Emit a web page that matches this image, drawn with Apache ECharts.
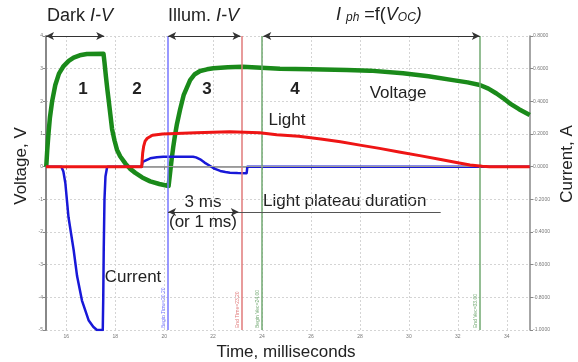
<!DOCTYPE html>
<html><head><meta charset="utf-8">
<script src="https://cdn.jsdelivr.net/npm/echarts@6/dist/echarts.min.js"></script>
<style>html,body{margin:0;padding:0;background:#fff}#c{width:578px;height:362px}</style>
</head><body><div id="c"></div>
<script>
// ---- data ----
const xTicks = [16, 18, 20, 22, 24, 26, 28, 30, 32, 34];
const voltageT = [15.18, 15.22, 15.27, 15.33, 15.42, 15.55, 15.7, 15.89, 16.1, 16.3, 16.55, 16.84, 17.52,
  17.56, 17.62, 17.68, 17.73, 17.8, 17.87, 17.97, 18.07, 18.2, 18.41, 18.6, 18.82, 19.1, 19.43, 19.8, 20.18, 20.22,
  20.3, 20.37, 20.44, 20.52, 20.65, 20.8, 21.06, 21.25, 21.47, 21.75, 22.01, 22.6, 23.2, 23.22,
  24.73, 26.0, 27.46, 28.41, 29.76, 30.8, 31.8, 32.4, 32.9, 33.25, 33.58, 33.85, 34.12, 34.5, 34.94];
const voltageV = [0, 0.5, 1.0, 1.5, 2.0, 2.5, 2.85, 3.08, 3.24, 3.34, 3.41, 3.45, 3.46,
  3.2, 2.75, 2.35, 2.04, 1.6, 1.15, 0.8, 0.52, 0.32, 0.1, -0.06, -0.19, -0.33, -0.45, -0.53, -0.59, -0.62,
  0.2, 0.6, 0.95, 1.3, 1.75, 2.2, 2.65, 2.83, 2.93, 2.98, 3.01, 3.04, 3.06, 3.0,
  3.0, 2.98, 2.96, 2.94, 2.86, 2.77, 2.65, 2.58, 2.5, 2.39, 2.24, 2.1, 1.94, 1.76, 1.58];
const lightT = [15.17, 19.08, 19.1, 19.12, 19.16, 19.22, 19.31, 19.52, 19.93, 21.3, 22.67, 23.9, 24.6, 25.5, 26.4, 27.2, 28.0, 28.8, 29.6, 30.5, 31.3, 32.0, 32.5, 33.0, 33.3, 34.94];
const lightV = [0, 0, 0.2, 0.41, 0.62, 0.78, 0.87, 0.96, 1.0, 1.04, 1.07, 1.04, 0.98, 0.93, 0.85, 0.76, 0.66, 0.56, 0.45, 0.33, 0.22, 0.12, 0.05, 0.01, 0, 0];
const darkCurT = [15.17, 15.8, 15.88, 15.96, 16.09, 16.3, 16.44, 16.64, 16.91, 17.1, 17.25, 17.49, 17.51, 17.53, 17.56, 17.6, 17.67];
const darkCurI = [0, 0, -0.03, -0.1, -0.31, -0.51, -0.67, -0.82, -0.94, -0.98, -1.0, -1.0, -0.8, -0.5, -0.2, -0.06, 0];
const illCurT = [17.67, 19.08, 19.12, 19.2, 19.43, 19.7, 19.96, 21.18, 21.3, 21.47, 21.65, 21.88, 22.05, 22.29, 22.5, 22.69, 23.0, 23.37, 23.4, 34.94];
const illCurI = [0, 0, 0.03, 0.042, 0.051, 0.058, 0.061, 0.061, 0.057, 0.045, 0.025, 0.004, -0.012, -0.026, -0.033, -0.037, -0.039, -0.04, 0, 0];
const markerT = [20.16, 23.17, 24.0, 32.9];
const markerText = ['Begin Time=20.20', 'End Time=23.20', 'Begin Vec=24.00', 'End Vec=33.00'];
const markerColor = ['#7777ff', '#e07a7a', '#70a870', '#70a870'];

const zip = (a, b) => a.map((v, i) => [v, b[i]]);
const FF = "'Liberation Sans', Arial, sans-serif";

const chart = echarts.init(document.getElementById('c'), null, {renderer: 'canvas'});

const arrowLine = (t0, t1, y, color, sym) => [
  {coord: [t0, y], symbol: sym, symbolSize: [6, 8], lineStyle: {color: color, width: 1.2, type: 'solid'}, label: {show: false}},
  {coord: [t1, y], symbol: sym, symbolSize: [6, 8]}
];

const markData = markerT.map((t, i) => ({
  xAxis: t,
  lineStyle: {color: markerColor[i], width: 1.5, type: 'solid'},
  label: {show: true, formatter: markerText[i], position: 'insideStartTop', fontSize: 5, color: markerColor[i], fontFamily: FF, distance: 2}
}));
markData.push({yAxis: 0, lineStyle: {color: '#999', width: 1, type: 'solid'}, label: {show: false}});
markData.push(arrowLine(15.17, 17.55, 4, '#333', 'arrow'));
markData.push(arrowLine(20.16, 23.12, 4, '#333', 'arrow'));
markData.push(arrowLine(24.05, 32.9, 4, '#333', 'arrow'));
markData.push(arrowLine(20.16, 23.05, -1.39, '#333', 'arrow'));
markData.push(arrowLine(23.05, 31.3, -1.39, '#555', 'none'));

const txt = (x, y, text, size, extra) => ({
  type: 'text', x: x, y: y, silent: true,
  style: Object.assign({text: text, fontSize: size, fontFamily: FF, fill: '#222', textAlign: 'center', textVerticalAlign: 'middle'}, extra || {})
});

const lineSeries = (name, axis, t, v, color, width, z) => ({
  name: name, type: 'line', yAxisIndex: axis, data: zip(t, v),
  showSymbol: false, smooth: false, lineStyle: {color: color, width: width, join: 'round'}, z: z
});

const vSeries = lineSeries('Voltage', 0, voltageT, voltageV, '#1a8a1a', 4.5, 3);
vSeries.markLine = {silent: true, symbol: 'none', animation: false, data: markData};

chart.setOption({
  animation: false,
  grid: {left: 46, right: 48, top: 36, bottom: 32},
  xAxis: {
    type: 'value', min: 15.17, max: 34.95,
    axisLine: {show: true, lineStyle: {color: '#888', width: 1.5}},
    axisTick: {show: true, customValues: xTicks, length: 3, lineStyle: {color: '#888'}},
    axisLabel: {customValues: xTicks, fontSize: 5, color: '#777', margin: 4, fontFamily: FF},
    splitLine: {show: true, lineStyle: {color: '#d4d4d4', type: [2, 2], width: 1}}
  },
  yAxis: [{
    type: 'value', min: -5, max: 4, interval: 1,
    axisLine: {show: true, onZero: false, lineStyle: {color: '#888', width: 2}},
    axisTick: {show: true, length: 3, lineStyle: {color: '#888'}},
    axisLabel: {fontSize: 5, color: '#777', margin: 3, fontFamily: FF},
    splitLine: {show: true, lineStyle: {color: '#d4d4d4', type: [2, 2], width: 1}}
  }, {
    type: 'value', min: -1, max: 0.8, interval: 0.2, position: 'right',
    axisLine: {show: true, onZero: false, lineStyle: {color: '#888', width: 1.5}},
    axisTick: {show: true, length: 3, lineStyle: {color: '#888'}},
    axisLabel: {fontSize: 5, color: '#777', margin: 3, fontFamily: FF, formatter: v => v.toFixed(4)},
    splitLine: {show: false}
  }],
  series: [
    vSeries,
    lineSeries('Dark current', 1, darkCurT, darkCurI, '#1818d8', 2.5, 4),
    lineSeries('Illuminated current', 1, illCurT, illCurI, '#1818d8', 2.5, 4),
    lineSeries('Light', 0, lightT, lightV, '#ee1515', 3, 5)
  ],
  graphic: [
    {type: 'text', left: 47, top: 7, silent: true, style: {rich: {a: {fontSize: 18, fontFamily: FF, fill: '#222'}, i: {fontSize: 18, fontFamily: FF, fontStyle: 'italic', fill: '#222'}}, text: '{a|Dark }{i|I-V}'}},
    {type: 'text', left: 168, top: 7, silent: true, style: {rich: {a: {fontSize: 18, fontFamily: FF, fill: '#222'}, i: {fontSize: 18, fontFamily: FF, fontStyle: 'italic', fill: '#222'}}, text: '{a|Illum. }{i|I-V}'}},
    {type: 'text', left: 336, top: 6, silent: true, style: {rich: {
      i: {fontSize: 18, fontFamily: FF, fontStyle: 'italic', fill: '#222', verticalAlign: 'bottom'},
      s: {fontSize: 12, fontFamily: FF, fontStyle: 'italic', fill: '#222', padding: [8, 0, 0, 0], verticalAlign: 'bottom'},
      a: {fontSize: 18, fontFamily: FF, fill: '#222', verticalAlign: 'bottom'}
    }, text: '{i|I }{s|ph}{a| =f(}{i|V}{s|OC}{i|)}'}},
    txt(83, 89, '1', 17, {fontWeight: 'bold'}),
    txt(137, 89, '2', 17, {fontWeight: 'bold'}),
    txt(207, 89, '3', 17, {fontWeight: 'bold'}),
    txt(295, 89, '4', 17, {fontWeight: 'bold'}),
    txt(398, 93, 'Voltage', 17),
    txt(287, 120, 'Light', 17),
    txt(133, 277, 'Current', 17),
    txt(203, 202, '3 ms', 17),
    txt(203, 222, '(or 1 ms)', 17),
    txt(263, 201, 'Light plateau duration', 17, {textAlign: 'left'}),
    txt(286, 352, 'Time, milliseconds', 17),
    Object.assign(txt(0, 0, 'Voltage, V', 17), {x: 21, y: 166, rotation: Math.PI / 2}),
    Object.assign(txt(0, 0, 'Current, A', 17), {x: 567, y: 164, rotation: Math.PI / 2})
  ]
});
</script></body></html>
